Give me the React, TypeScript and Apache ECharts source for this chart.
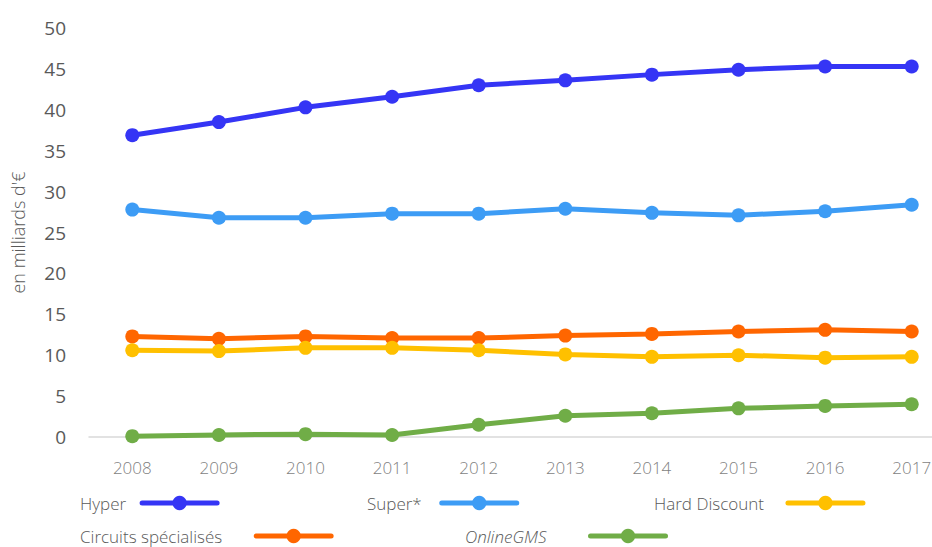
import React, { useEffect, useRef } from "react";
import * as echarts from "echarts";

const years = ["2008", "2009", "2010", "2011", "2012", "2013", "2014", "2015", "2016", "2017"];
const hyper = [36.9, 38.5, 40.3, 41.6, 43.0, 43.6, 44.3, 44.9, 45.3, 45.3];
const superS = [27.8, 26.8, 26.8, 27.3, 27.3, 27.9, 27.4, 27.1, 27.6, 28.4];
const hardDiscount = [10.6, 10.5, 10.9, 10.9, 10.6, 10.1, 9.8, 10.0, 9.7, 9.8];
const circuits = [12.3, 12.0, 12.3, 12.1, 12.1, 12.4, 12.6, 12.9, 13.1, 12.9];
const online = [0.1, 0.25, 0.35, 0.25, 1.5, 2.6, 2.9, 3.5, 3.8, 4.0];

const seriesNames = ["Hyper", "Super*", "Hard Discount", "Circuits spécialisés", "OnlineGMS"];
const colors = ["#3535F5", "#3D9CF5", "#FFC000", "#FF6600", "#70AD47"];
const seriesData = [hyper, superS, hardDiscount, circuits, online];

const FONT = "'Open Sans', sans-serif";

export default function App() {
  const ref = useRef<HTMLDivElement>(null);
  useEffect(() => {
    if (!ref.current) return;
    const chart = echarts.init(ref.current, undefined, { renderer: "svg" });
    const legendPos = [
      { left: 80, top: 493 },
      { left: 367, top: 493 },
      { left: 654, top: 493 },
      { left: 80, top: 526 },
      { left: 465, top: 526 },
    ];
    const pads = [11, 15, 19, 29, 39];
    const legends = seriesNames.map((n, i) => ({
      data: [n],
      left: legendPos[i].left,
      top: legendPos[i].top,
      padding: 0,
      align: "right",
      itemWidth: 75,
      itemHeight: 18,
      itemGap: 0,
      lineStyle: { width: 5, cap: "round" },
      textStyle: {
        color: "#595959",
        fontSize: 17,
        fontWeight: 300,
        fontFamily: FONT,
        fontStyle: i === 4 ? "italic" : "normal",
        lineHeight: 20,
        padding: [0, pads[i], 0, 0],
      },
    }));
    chart.setOption({
      animation: false,
      legend: legends,
      grid: { left: 89, width: 866, top: 28, bottom: 110, containLabel: false, outerBoundsMode: "none" },
      xAxis: {
        type: "category",
        data: years,
        boundaryGap: true,
        axisLine: { lineStyle: { color: "#D9D9D9", width: 1.5 } },
        axisTick: { show: false },
        axisLabel: { color: "#7F7F7F", fontSize: 17, margin: 22, fontFamily: FONT, fontWeight: 300 },
      },
      yAxis: {
        type: "value",
        min: 0,
        max: 50,
        interval: 5,
        name: "en milliards d'€",
        nameLocation: "middle",
        nameGap: 62,
        nameTextStyle: { color: "#595959", fontSize: 18, fontFamily: FONT, fontWeight: 300 },
        axisLine: { show: false },
        axisTick: { show: false },
        splitLine: { show: false },
        axisLabel: { color: "#595959", fontSize: 19, margin: 23, fontFamily: FONT },
      },
      series: seriesNames.map((n, i) => ({
        name: n,
        type: "line",
        data: seriesData[i],
        symbol: "circle",
        symbolSize: 14,
        lineStyle: { width: 5, color: colors[i] },
        itemStyle: { color: colors[i] },
        z: 10 - i,
      })),
    });
    return () => chart.dispose();
  }, []);
  return <div ref={ref} style={{ width: 932, height: 547, position: "absolute", left: 0, top: 0 }} />;
}
